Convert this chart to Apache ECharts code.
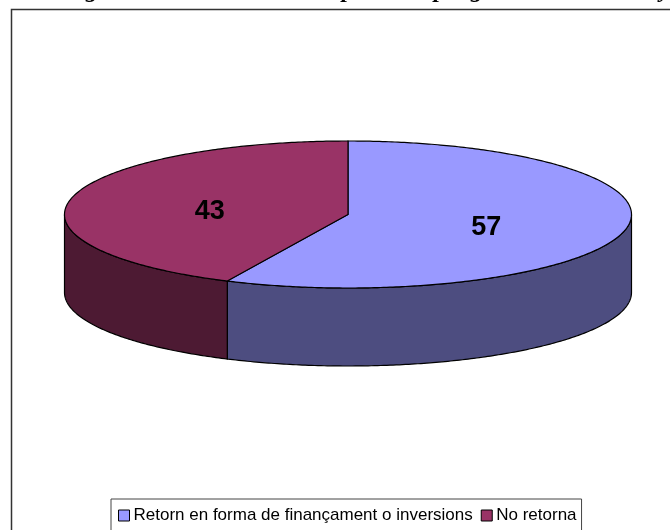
<!DOCTYPE html>
<html lang="en" style="height: 100%">
<head>
  <meta charset="utf-8">
</head>
<body style="height: 100%; margin: 0; background: #fff">
  <div id="container" style="height: 100%"></div>

  <script type="text/javascript" src="https://fastly.jsdelivr.net/npm/echarts@6/dist/echarts.min.js"></script>
  <script type="text/javascript">
    var names = ['Retorn en forma de finançament o inversions', 'No retorna'];
    var values = [57, 43];
    var topColors = ['#9999FF', '#993366'];
    var wallColors = ['#4D4D80', '#4D1A33'];
    // only the bottoms of these title letters are left inside the picture
    var titleLetters = ['g', 'p', 'p', 'g', 'y'];
    var titleLetterX = [92, 348, 440, 477, 665];

    var dom = document.getElementById('container');
    var myChart = echarts.init(dom, null, { renderer: 'canvas' });

    // pie disc on screen
    var cx = 348, cy = 214.5, rx = 283.5, ry = 73.5, depth = 78;
    var total = values.reduce(function (a, b) { return a + b; }, 0);

    function edge(a, dy) {
      return [cx + rx * Math.sin(a), cy - ry * Math.cos(a) + (dy || 0)];
    }

    function arc(a0, a1, dy) {
      var pts = [];
      var n = Math.ceil(Math.abs(a1 - a0) * 90);
      for (var i = 0; i <= n; i++) {
        pts.push(edge(a0 + (a1 - a0) * i / n, dy));
      }
      return pts;
    }

    function sliceRenderer(idx) {
      return function () {
        var before = 0;
        for (var i = 0; i < idx; i++) before += values[i];
        var a0 = before / total * 2 * Math.PI;
        var a1 = (before + values[idx]) / total * 2 * Math.PI;
        var children = [];

        // front wall: only the part of the rim below the horizontal axis shows
        var w0 = Math.max(a0, Math.PI / 2);
        var w1 = Math.min(a1, Math.PI * 1.5);
        if (w1 > w0) {
          children.push({
            type: 'polygon',
            shape: { points: arc(w0, w1, 0).concat(arc(w1, w0, depth)) },
            style: { fill: wallColors[idx], stroke: '#000', lineWidth: 1.2 }
          });
        }

        children.push({
          type: 'polygon',
          z2: 5,
          shape: { points: [[cx, cy]].concat(arc(a0, a1, 0)) },
          style: { fill: topColors[idx], stroke: '#000', lineWidth: 1.2 }
        });

        var mid = edge((a0 + a1) / 2, 0);
        children.push({
          type: 'text',
          z2: 10,
          style: {
            x: (cx + mid[0]) / 2,
            y: (cy + mid[1]) / 2 + 5,
            text: String(values[idx]),
            font: 'bold 27px "Liberation Sans", Arial, sans-serif',
            fill: '#000',
            align: 'center',
            verticalAlign: 'middle'
          }
        });
        return { type: 'group', children: children };
      };
    }

    var graphics = [{
      type: 'rect',
      silent: true,
      shape: { x: 11.5, y: 9.5, width: 800, height: 700 },
      style: { fill: '#fff', stroke: '#333', lineWidth: 1.5 },
      z: -1
    }];
    titleLetters.forEach(function (ch, i) {
      graphics.push({
        type: 'text',
        silent: true,
        x: titleLetterX[i],
        y: 3,
        style: {
          text: ch,
          font: 'italic bold 24px "Liberation Serif", "Times New Roman", serif',
          fill: '#000',
          align: 'center',
          verticalAlign: 'bottom'
        }
      });
    });

    var option = {
      animation: false,
      backgroundColor: '#fff',
      graphic: graphics,
      legend: {
        left: 111,
        top: 499,
        padding: [8, 5, 7, 7],
        itemGap: 8,
        itemWidth: 11,
        itemHeight: 11,
        icon: 'rect',
        borderColor: '#444',
        borderWidth: 1,
        backgroundColor: '#fff',
        data: names,
        itemStyle: { borderColor: '#000', borderWidth: 1 },
        textStyle: {
          color: '#000',
          fontSize: 17,
          padding: [0, 0, 0, -1],
          fontFamily: '"Liberation Sans", Arial, sans-serif'
        }
      },
      series: names.map(function (name, i) {
        return {
          name: name,
          type: 'custom',
          coordinateSystem: 'none',
          silent: true,
          itemStyle: { color: topColors[i] },
          data: [values[i]],
          renderItem: sliceRenderer(i)
        };
      })
    };

    myChart.setOption(option);
    window.addEventListener('resize', myChart.resize);
  </script>
</body>
</html>
